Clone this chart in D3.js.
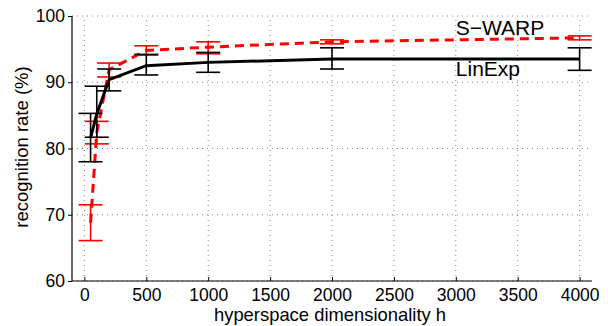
<!DOCTYPE html>
<html>
<head>
<meta charset="utf-8">
<script src="https://cdn.jsdelivr.net/npm/d3@7"></script>
<style>
  body { margin: 0; background: #fff; }
  text { font-family: "Liberation Sans", Arial, sans-serif; }
</style>
</head>
<body>
<svg id="chart" width="608" height="326"></svg>
<script>
// data
var dims = [50, 100, 200, 500, 1000, 2000, 4000];
var linMean = [81.6, 85.2, 90.4, 92.5, 93.0, 93.5, 93.5];
var linLo   = [78.0, 81.7, 88.7, 91.1, 91.5, 92.0, 91.8];
var linHi   = [85.3, 89.4, 92.0, 94.2, 94.5, 95.2, 95.2];
var warpMean = [68.8, 82.4, 91.9, 94.8, 95.3, 96.1, 96.7];
var warpLo   = [66.1, 80.7, 90.8, 94.1, 94.3, 95.8, 96.4];
var warpHi   = [71.5, 84.1, 92.9, 95.5, 96.1, 96.4, 97.0];
var xTicks = [0, 500, 1000, 1500, 2000, 2500, 3000, 3500, 4000];
var yTicks = [60, 70, 80, 90, 100];

var svg = d3.select("#chart");
var x = d3.scaleLinear().domain([-100, 4100]).range([72, 592]);
var y = d3.scaleLinear().domain([60, 100]).range([281, 16]);

// grid
svg.append("g").selectAll("line").data(xTicks).enter().append("line")
  .attr("x1", d => x(d)).attr("x2", d => x(d))
  .attr("y1", y(60)).attr("y2", y(100))
  .attr("stroke", "#666").attr("stroke-width", 0.8)
  .attr("stroke-dasharray", "1,4");
svg.append("g").selectAll("line").data(yTicks).enter().append("line")
  .attr("x1", x(-100)).attr("x2", x(4100))
  .attr("y1", d => y(d)).attr("y2", d => y(d))
  .attr("stroke", "#666").attr("stroke-width", 0.8)
  .attr("stroke-dasharray", "1,4");

// axes
var xAxis = svg.append("g").attr("transform", "translate(0," + y(60) + ")")
  .call(d3.axisBottom(x).tickValues(xTicks).tickFormat(d3.format("d")).tickSize(-4).tickPadding(7.5));
var yAxis = svg.append("g").attr("transform", "translate(" + x(-100) + ",0)")
  .call(d3.axisLeft(y).tickValues(yTicks).tickSize(4).tickPadding(3));
[xAxis, yAxis].forEach(function(a) {
  a.select(".domain").attr("stroke", "#000").attr("stroke-width", 1.2);
  a.selectAll(".tick line").attr("stroke", "#000");
  a.selectAll("text").attr("font-size", 17.5).attr("fill", "#000")
    .style("font-family", "Liberation Sans, Arial, sans-serif");
});
xAxis.select(".domain").attr("d", "M" + x(-100) + ",0H" + x(4100));
yAxis.select(".domain").attr("d", "M0," + y(60) + "V" + y(100));

function drawSeries(mean, lo, hi, color, dash, lw) {
  var g = svg.append("g");
  var cap = 12;
  dims.forEach(function(d, i) {
    g.append("line").attr("x1", x(d)).attr("x2", x(d))
      .attr("y1", y(lo[i])).attr("y2", y(hi[i]))
      .attr("stroke", color).attr("stroke-width", 1.6);
    [lo[i], hi[i]].forEach(function(v) {
      g.append("line").attr("x1", x(d) - cap).attr("x2", x(d) + cap)
        .attr("y1", y(v)).attr("y2", y(v))
        .attr("stroke", color).attr("stroke-width", 1.6);
    });
  });
  var line = d3.line().x((d, i) => x(dims[i])).y(d => y(d));
  g.append("path").datum(mean).attr("d", line)
    .attr("fill", "none").attr("stroke", color).attr("stroke-width", lw)
    .attr("stroke-dasharray", dash);
}
drawSeries(warpMean, warpLo, warpHi, "#ff0000", "9,6", 3);
drawSeries(linMean, linLo, linHi, "#000", null, 3);

// series labels
svg.append("text").attr("x", x(3000)).attr("y", y(97.1)).text("S\u2212WARP")
  .attr("font-size", 21);
svg.append("text").attr("x", x(3000)).attr("y", y(91.0)).text("LinExp")
  .attr("font-size", 21);

// axis titles
svg.append("text").attr("x", 330).attr("y", 321).attr("text-anchor", "middle")
  .attr("font-size", 18.4).text("hyperspace dimensionality h");
svg.append("text").attr("transform", "translate(28,147) rotate(-90)")
  .attr("text-anchor", "middle").attr("font-size", 18.5).text("recognition rate (%)");
</script>
</body>
</html>
